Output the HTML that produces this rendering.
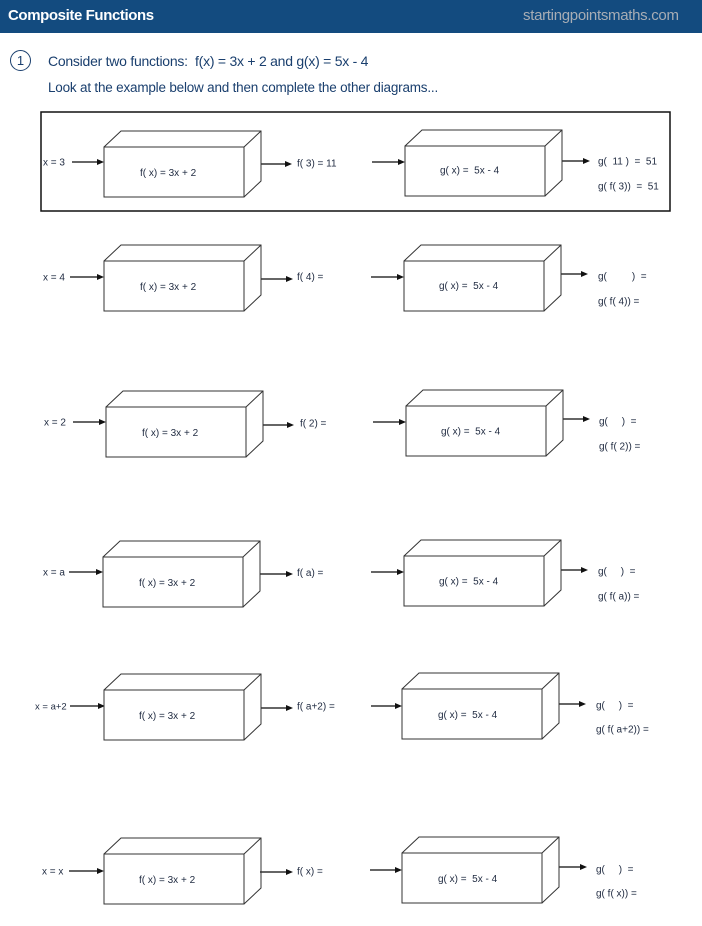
<!DOCTYPE html>
<html>
<head>
<meta charset="utf-8">
<style>
  html,body{margin:0;padding:0;background:#fff;}
  body{width:702px;height:926px;position:relative;overflow:hidden;font-family:"Liberation Sans",Arial,sans-serif;}
  .bar{position:absolute;left:0;top:0;width:702px;height:33px;background:#134b7f;}
  .title{position:absolute;left:8px;top:7px;color:#fff;font-weight:bold;font-size:15px;letter-spacing:-0.4px;}
  .site{position:absolute;left:523px;top:7px;color:#a7adb5;font-size:15px;letter-spacing:-0.3px;}
  .circ{position:absolute;left:10px;top:50px;width:19px;height:19px;border:1.6px solid #1a3f6e;border-radius:50%;color:#1a3f6e;font-size:13px;text-align:center;line-height:19px;}
  .q{position:absolute;left:48px;color:#1a3f6e;font-size:14px;letter-spacing:-0.25px;white-space:nowrap;}
  svg{position:absolute;left:0;top:0;}
  svg text{font-family:"Liberation Sans",Arial,sans-serif;font-size:10px;fill:#1f2a40;}
</style>
</head>
<body>
<div class="bar"></div>
<div class="title">Composite Functions</div>
<div class="site">startingpointsmaths.com</div>
<div class="circ">1</div>
<div class="q" style="top:53px;">Consider two functions:&nbsp; f(x) = 3x + 2 and g(x) = 5x - 4</div>
<div class="q" style="top:80px;font-size:13.5px;letter-spacing:-0.2px;">Look at the example below and then complete the other diagrams...</div>

<svg width="702" height="926" viewBox="0 0 702 926" xmlns="http://www.w3.org/2000/svg">
  <defs>
    <g id="fbox">
      <polygon points="0,0 140,0 140,50 0,50" fill="#fff" stroke="#333" stroke-width="1"/>
      <polyline points="0,0 17,-16 157,-16 157,34 140,50" fill="none" stroke="#333" stroke-width="1"/>
      <line x1="140" y1="0" x2="157" y2="-16" stroke="#333" stroke-width="1"/>
    </g>
  </defs>

  <!-- example frame -->
  <rect x="41" y="112" width="629" height="99" fill="none" stroke="#111" stroke-width="1.5"/>

  <g stroke="#333" stroke-width="1.5" fill="#111">
    <!-- Row 1 -->
    <line x1="72" y1="162" x2="98" y2="162"/><polygon points="104,162 97,159 97,165" stroke="none"/>
    <line x1="261" y1="164" x2="286" y2="164"/><polygon points="292,164 285,161 285,167" stroke="none"/>
    <line x1="372" y1="162" x2="399" y2="162"/><polygon points="405,162 398,159 398,165" stroke="none"/>
    <line x1="562" y1="161" x2="584" y2="161"/><polygon points="590,161 583,158 583,164" stroke="none"/>
    <!-- Row 2 -->
    <line x1="70" y1="277" x2="98" y2="277"/><polygon points="104,277 97,274 97,280" stroke="none"/>
    <line x1="261" y1="279" x2="287" y2="279"/><polygon points="293,279 286,276 286,282" stroke="none"/>
    <line x1="371" y1="277" x2="398" y2="277"/><polygon points="404,277 397,274 397,280" stroke="none"/>
    <line x1="561" y1="274" x2="582" y2="274"/><polygon points="588,274 581,271 581,277" stroke="none"/>
    <!-- Row 3 -->
    <line x1="73" y1="422" x2="100" y2="422"/><polygon points="106,422 99,419 99,425" stroke="none"/>
    <line x1="263" y1="425" x2="288" y2="425"/><polygon points="294,425 287,422 287,428" stroke="none"/>
    <line x1="373" y1="422" x2="400" y2="422"/><polygon points="406,422 399,419 399,425" stroke="none"/>
    <line x1="563" y1="419" x2="584" y2="419"/><polygon points="590,419 583,416 583,422" stroke="none"/>
    <!-- Row 4 -->
    <line x1="69" y1="572" x2="97" y2="572"/><polygon points="103,572 96,569 96,575" stroke="none"/>
    <line x1="260" y1="574" x2="287" y2="574"/><polygon points="293,574 286,571 286,577" stroke="none"/>
    <line x1="371" y1="572" x2="398" y2="572"/><polygon points="404,572 397,569 397,575" stroke="none"/>
    <line x1="561" y1="570" x2="582" y2="570"/><polygon points="588,570 581,567 581,573" stroke="none"/>
    <!-- Row 5 -->
    <line x1="70" y1="706" x2="99" y2="706"/><polygon points="105,706 98,703 98,709" stroke="none"/>
    <line x1="261" y1="708" x2="287" y2="708"/><polygon points="293,708 286,705 286,711" stroke="none"/>
    <line x1="371" y1="706" x2="396" y2="706"/><polygon points="402,706 395,703 395,709" stroke="none"/>
    <line x1="559" y1="704" x2="580" y2="704"/><polygon points="586,704 579,701 579,707" stroke="none"/>
    <!-- Row 6 -->
    <line x1="69" y1="871" x2="98" y2="871"/><polygon points="104,871 97,868 97,874" stroke="none"/>
    <line x1="260" y1="872" x2="287" y2="872"/><polygon points="293,872 286,869 286,875" stroke="none"/>
    <line x1="370" y1="870" x2="396" y2="870"/><polygon points="402,870 395,867 395,873" stroke="none"/>
    <line x1="559" y1="867" x2="581" y2="867"/><polygon points="587,867 580,864 580,870" stroke="none"/>
  </g>

  <!-- boxes -->
  <use href="#fbox" x="104" y="147"/>
  <use href="#fbox" x="405" y="146"/>
  <use href="#fbox" x="104" y="261"/>
  <use href="#fbox" x="404" y="261"/>
  <use href="#fbox" x="106" y="407"/>
  <use href="#fbox" x="406" y="406"/>
  <use href="#fbox" x="103" y="557"/>
  <use href="#fbox" x="404" y="556"/>
  <use href="#fbox" x="104" y="690"/>
  <use href="#fbox" x="402" y="689"/>
  <use href="#fbox" x="104" y="854"/>
  <use href="#fbox" x="402" y="853"/>

  <!-- Row 1 text -->
  <text x="43" y="165.5" fill="#111">x = 3</text>
  <text x="140" y="176">f( x) = 3x + 2</text>
  <text x="297" y="166.5">f( 3) = 11</text>
  <text x="440" y="173.5">g( x) =&#160; 5x - 4</text>
  <text x="598" y="164.5">g(&#160; 11 )&#160; =&#160; 51</text>
  <text x="598" y="189.5">g( f( 3))&#160; =&#160; 51</text>

  <!-- Row 2 -->
  <text x="43" y="280.5">x = 4</text>
  <text x="140" y="290">f( x) = 3x + 2</text>
  <text x="297" y="280">f( 4) =</text>
  <text x="439" y="289">g( x) =&#160; 5x - 4</text>
  <text x="598" y="279.5">g(&#160;&#160;&#160;&#160;&#160;&#160;&#160;&#160; )&#160; =</text>
  <text x="598" y="304.5">g( f( 4)) =</text>

  <!-- Row 3 -->
  <text x="44" y="425.5">x = 2</text>
  <text x="142" y="436">f( x) = 3x + 2</text>
  <text x="300" y="426.5">f( 2) =</text>
  <text x="441" y="434.5">g( x) =&#160; 5x - 4</text>
  <text x="599" y="424.5">g(&#160;&#160;&#160;&#160; )&#160; =</text>
  <text x="599" y="449.5">g( f( 2)) =</text>

  <!-- Row 4 -->
  <text x="43" y="575.5">x = a</text>
  <text x="139" y="586">f( x) = 3x + 2</text>
  <text x="297" y="576">f( a) =</text>
  <text x="439" y="584.5">g( x) =&#160; 5x - 4</text>
  <text x="598" y="574.5">g(&#160;&#160;&#160;&#160; )&#160; =</text>
  <text x="598" y="599.5">g( f( a)) =</text>

  <!-- Row 5 -->
  <text x="35" y="709.5" style="font-size:9.5px">x = a+2</text>
  <text x="139" y="719">f( x) = 3x + 2</text>
  <text x="297" y="709.5">f( a+2) =</text>
  <text x="438" y="718">g( x) =&#160; 5x - 4</text>
  <text x="596" y="708.5">g(&#160;&#160;&#160;&#160; )&#160; =</text>
  <text x="596" y="732.5">g( f( a+2)) =</text>

  <!-- Row 6 -->
  <text x="42" y="874.5">x = x</text>
  <text x="139" y="883">f( x) = 3x + 2</text>
  <text x="297" y="874.5">f( x) =</text>
  <text x="438" y="882">g( x) =&#160; 5x - 4</text>
  <text x="596" y="872.5">g(&#160;&#160;&#160;&#160; )&#160; =</text>
  <text x="596" y="896.5">g( f( x)) =</text>
</svg>
</body>
</html>
